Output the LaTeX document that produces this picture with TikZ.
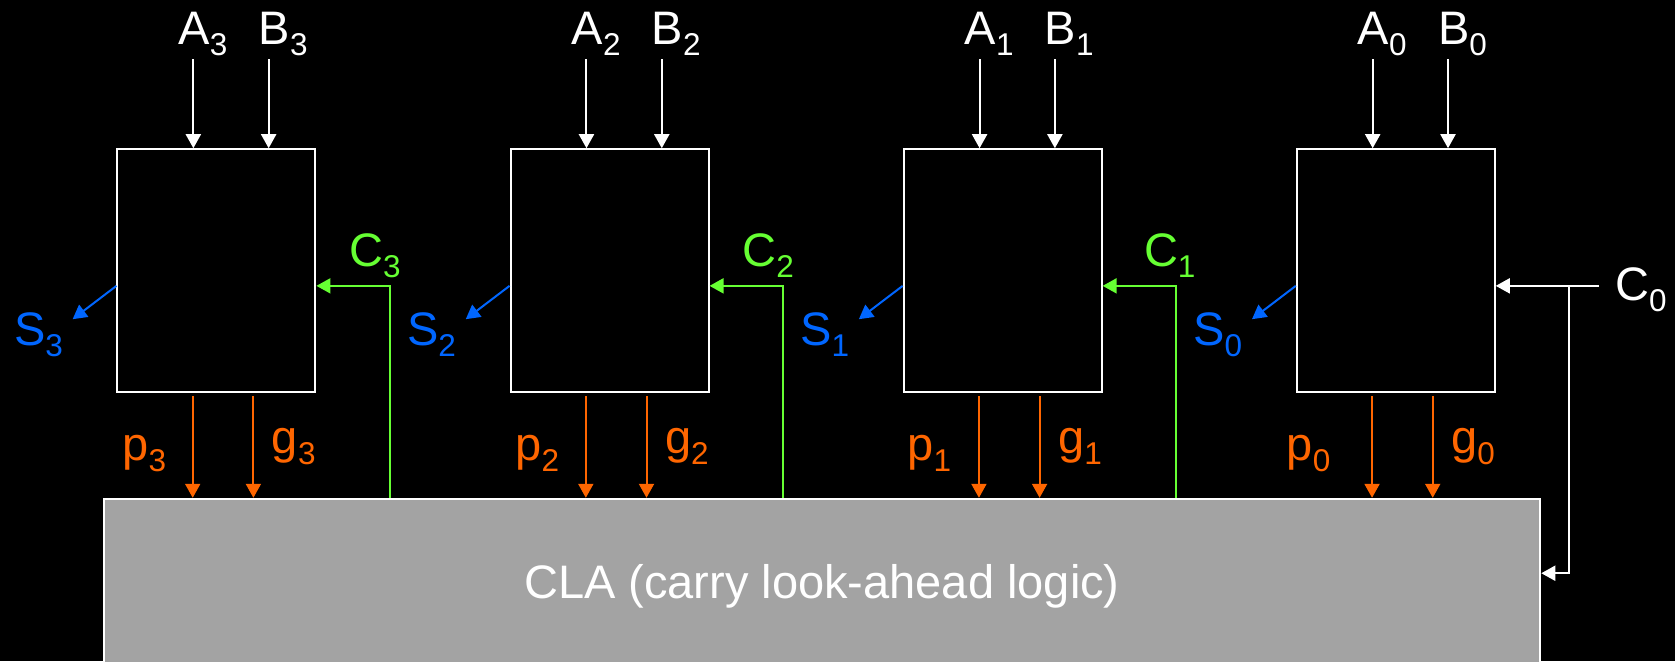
\documentclass[tikz,border=0pt]{standalone}
\usepackage{fontspec}
\setmainfont{Liberation Sans}
\usetikzlibrary{arrows.meta}
\definecolor{cor}{RGB}{255,102,0}
\definecolor{cgr}{RGB}{102,255,51}
\definecolor{cbl}{RGB}{0,102,255}
\definecolor{cgy}{RGB}{163,163,163}
\newcommand{\sbx}[1]{\raisebox{-11pt}{\fontsize{31.5}{32}\selectfont #1}}
\begin{document}
\begin{tikzpicture}[x=1.0682pt,y=-1.0682pt,
  wire/.style={line width=2pt},
  tip/.style={-{Triangle[width=15pt,length=14pt]}},
  lbl/.style={inner sep=0pt,anchor=base,font=\fontsize{47}{56}\selectfont},
  adder/.style={draw=white,line width=2pt,fill=black,minimum width=198pt,minimum height=242.5pt,inner sep=0pt}]
\fill[black] (0,0) rectangle (1568,619);
\useasboundingbox (0,0) rectangle (1568,619);
% CLA block
\node[draw=white,line width=2pt,fill=cgy,anchor=north west,minimum width=1436.7pt,minimum height=175.2pt,inner sep=0pt,text=white,font=\fontsize{47}{56}\selectfont] (cla) at (96,466) {CLA (carry look-ahead logic)};
% adder boxes, inputs, outputs
\foreach \i/\L/\pc in {3/110/135, 2/478/503, 1/846/870, 0/1214/1225}{
  \node[adder] (box\i) at (\L+92.6,253.2) {};
  \node[lbl,white] (la\i) at (\L+80,41.5) {A\sbx{\i}};
  \node[lbl,white] (lb\i) at (\L+155,41.5) {B\sbx{\i}};
  \coordinate (a\i) at (\L+71,55.3);
  \coordinate (b\i) at (\L+141.5,55.3);
  \draw[wire,white,tip] (a\i) -- (a\i |- box\i.north);
  \draw[wire,white,tip] (b\i) -- (b\i |- box\i.north);
  \coordinate (s\i) at (\L-42,298.8);
  \draw[wire,cbl,tip] ([yshift=-15.4pt]box\i.west) -- (s\i);
  \node[lbl,cbl] (ls\i) at (\L-74,323) {S\sbx{\i}};
  \coordinate (p\i) at (\L+70.4,371);
  \coordinate (g\i) at (\L+127.2,371);
  \draw[wire,cor,tip] (p\i) -- (p\i |- cla.north);
  \draw[wire,cor,tip] (g\i) -- (g\i |- cla.north);
  \node[lbl,cor] (lp\i) at (\pc,431) {p\sbx{\i}};
  \node[lbl,cor] (lg\i) at (\L+165,424.5) {g\sbx{\i}};
}
% carries from CLA
\foreach \i/\L/\cc in {3/110/351, 2/478/719, 1/846/1095}{
  \coordinate (cx\i) at (\L+255,267.6);
  \draw[wire,cgr,tip] (cx\i |- cla.north) -- (cx\i) -- (box\i.east |- cx\i);
  \node[lbl,cgr] (lc\i) at (\cc,249.5) {C\sbx{\i}};
}
% carry in
\node[lbl,white] (lc0) at (1536,281.5) {C\sbx{0}};
\coordinate (c0s) at (1497,267.6);
\coordinate (c0b) at (1469,267.6);
\coordinate (c0d) at (1469,536.6);
\draw[wire,white,tip] (c0s) -- (box0.east |- c0s);
\draw[wire,white,tip] (c0b) -- (c0d) -- (cla.east |- c0d);
\end{tikzpicture}
\end{document}
